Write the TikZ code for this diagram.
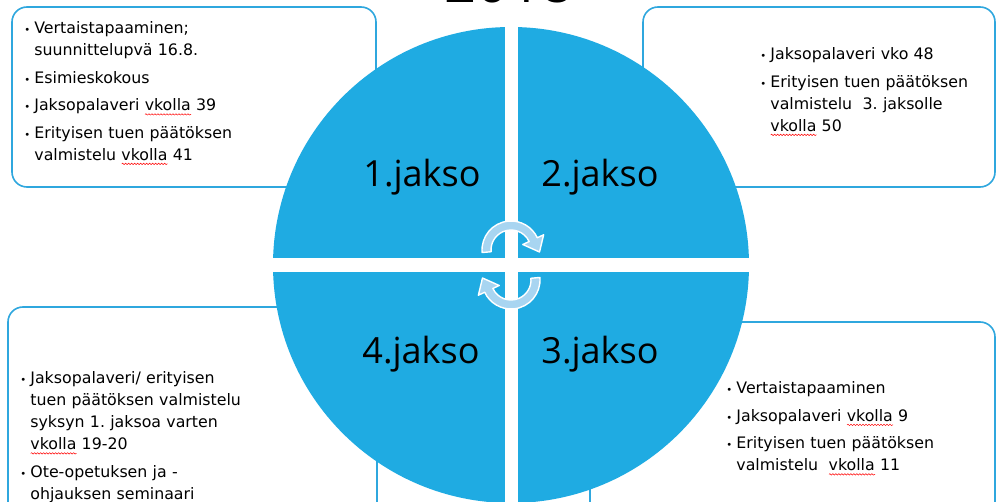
\documentclass[tikz,border=0pt]{standalone}
\usepackage{fontspec}
\setmainfont{DejaVu Sans}
\newfontfamily\jaksofont{Open Sans}
\usetikzlibrary{positioning,decorations.pathmorphing}

\definecolor{jaksoblue}{HTML}{1FABE2}
\definecolor{boxline}{HTML}{2FA7DE}
\definecolor{arrowfill}{HTML}{A8D5F1}

% red spell-check wave under a word
\newlength\wavylen
\newcommand\wavy[1]{\leavevmode\settowidth{\wavylen}{#1}\rlap{\tikz[baseline=0pt]\draw[red,line width=0.5pt,decorate,
  decoration={snake,amplitude=0.7pt,segment length=3pt}] (0pt,-3.5pt) -- (\wavylen,-3.5pt);}#1}
% one bullet item with hanging indent
\newcommand\bitem[1]{\par\hangindent=10pt\hangafter=1\noindent\makebox[10pt][l]{\fontsize{10}{10}\selectfont\textbullet}#1\par}

\begin{document}
\begin{tikzpicture}[x=1pt,y=1pt]
\tikzset{
  infobox/.style={draw=boxline,line width=1.6pt,fill=white,rounded corners=15pt,inner sep=0pt},
  itemlist/.style={inner sep=0pt,text width=300pt,align=left,
    font=\fontsize{15.8}{22}\selectfont\frenchspacing\setlength{\parskip}{5.5pt}},
  jaksolabel/.style={font=\jaksofont\fontsize{36}{36}\selectfont,anchor=base,inner sep=0pt},
  cyclearrow/.style={fill=arrowfill,draw=white,line width=1.4pt,line join=round}
}
\useasboundingbox (0,0) rectangle (996,501);

% title, mostly above the page
\node[font=\jaksofont\fontsize{56}{56}\selectfont,anchor=base,inner sep=0pt] (title) at (509,498) {2018};

% boxes behind the circle
\node[infobox,minimum width=364,minimum height=180] (box1) at (194,404) {};
\node[infobox,minimum width=352,minimum height=180] (box2) at (819,404) {};
\node[infobox,minimum width=369,minimum height=234] (box3) at (192.5,77) {};
\node[infobox,minimum width=405,minimum height=219] (box4) at (792.5,69.5) {};

% four quarters
\coordinate (mid) at (511,236);
\begin{scope}
  \clip (mid) circle (238);
  \foreach \sx/\sy in {1/1,-1/1,-1/-1,1/-1}
    \fill[jaksoblue] ([shift={(\sx*6.5,\sy*7)}]mid) rectangle ++(\sx*240,\sy*240);
\end{scope}

\node[jaksolabel] (q1) at (422,314) {1.jakso};
\node[jaksolabel] (q2) at (600,314) {2.jakso};
\node[jaksolabel] (q3) at (600,137) {3.jakso};
\node[jaksolabel] (q4) at (421,137) {4.jakso};

% the two turning arrows
\foreach \cy/\rot in {251/0,221/180}{
  \begin{scope}[shift={(511,\cy)},rotate=\rot]
    \filldraw[cyclearrow] (185:20) -- (185:29) arc[start angle=185,end angle=25,radius=29]
      -- (25:36) -- (28.5,-2) -- (25:13) -- (25:20)
      arc[start angle=25,end angle=185,radius=20] -- cycle;
  \end{scope}
}

% texts
\node[itemlist,below right=0pt and 13pt of box1.north west] (list1) {%
  \bitem{Vertaistapaaminen;\newline suunnittelupvä 16.8.}
  \bitem{Esimieskokous}
  \bitem{Jaksopalaveri \wavy{vkolla} 39}
  \bitem{Erityisen tuen päätöksen\newline valmistelu \wavy{vkolla} 41}};
\node[itemlist,below right=26pt and 118pt of box2.north west] (list2) {%
  \bitem{Jaksopalaveri vko 48}
  \bitem{Erityisen tuen päätöksen\newline valmistelu\ \ 3. jaksolle\newline \wavy{vkolla} 50}};
\node[itemlist,below right=50pt and 13pt of box3.north west] (list3) {%
  \bitem{Jaksopalaveri/ erityisen\newline tuen päätöksen valmistelu\newline syksyn 1. jaksoa varten\newline \wavy{vkolla} 19-20}
  \bitem{Ote-opetuksen ja -\newline ohjauksen seminaari}};
\node[itemlist,below right=45pt and 137pt of box4.north west] (list4) {%
  \bitem{Vertaistapaaminen}
  \bitem{Jaksopalaveri \wavy{vkolla} 9}
  \bitem{Erityisen tuen päätöksen\newline valmistelu\ \ \wavy{vkolla} 11}};
\end{tikzpicture}
\end{document}
